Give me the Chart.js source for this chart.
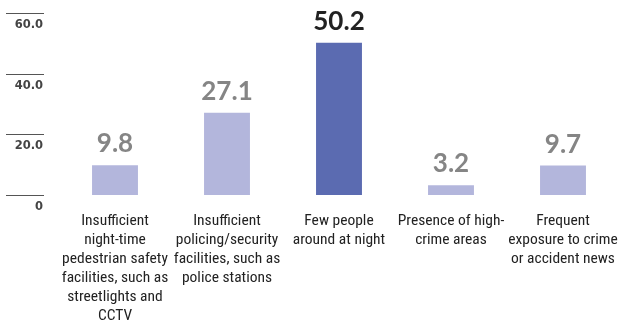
<!DOCTYPE html>
<html>
<head>
<meta charset="utf-8">
<script src="https://cdn.jsdelivr.net/npm/chart.js@4/dist/chart.umd.min.js"></script>
<style>
  html, body { margin: 0; padding: 0; background: #fff; }
  #wrap { width: 620px; height: 328px; position: relative; }
</style>
</head>
<body>
<div id="wrap"><canvas id="c"></canvas></div>
<script>
const categories = [
    ['Insufficient', 'night-time', 'pedestrian safety', 'facilities, such as', 'streetlights and', 'CCTV'],
    ['Insufficient', 'policing/security', 'facilities, such as', 'police stations'],
    ['Few people', 'around at night'],
    ['Presence of high-', 'crime areas'],
    ['Frequent', 'exposure to crime', 'or accident news'],
];
const values      = [9.8, 27.1, 50.2, 3.2, 9.7];
const highlight   = [false, false, true, false, false];
const yTicks      = [0, 20, 40, 60];
const yTickLabels = ['0', '20.0', '40.0', '60.0'];

const LIGHT = '#b3b6dc';
const DARK  = '#5b6bb1';

// short grid lines + labels sitting left of the plot
const yAxisPlugin = {
    id: 'shortAxis',
    afterDraw(chart) {
        const { ctx, scales: { y } } = chart;
        ctx.save();
        ctx.font = 'bold 11.5px "DejaVu Sans", sans-serif';
        ctx.textAlign = 'right';
        ctx.textBaseline = 'middle';
        yTicks.forEach((v, i) => {
            const py = Math.round(y.getPixelForValue(v)) + 0.5;
            ctx.strokeStyle = '#555';
            ctx.lineWidth = 1;
            ctx.beginPath();
            ctx.moveTo(6, py);
            ctx.lineTo(44, py);
            ctx.stroke();
            ctx.fillStyle = '#444';
            ctx.fillText(yTickLabels[i], 43, py + 11.5);
        });
        ctx.restore();
    }
};

const valueLabels = {
    id: 'valueLabels',
    afterDatasetsDraw(chart) {
        const { ctx } = chart;
        const meta = chart.getDatasetMeta(0);
        ctx.save();
        ctx.font = 'bold 26px Lato, sans-serif';
        ctx.textAlign = 'center';
        ctx.textBaseline = 'alphabetic';
        meta.data.forEach((bar, i) => {
            ctx.fillStyle = highlight[i] ? '#222' : '#858585';
            ctx.fillText(values[i].toFixed(1), bar.x, bar.y - 13);
        });
        ctx.restore();
    }
};

new Chart(document.getElementById('c'), {
    type: 'bar',
    data: {
        labels: categories,
        datasets: [{
            data: values,
            backgroundColor: highlight.map(h => h ? DARK : LIGHT),
            borderWidth: 0,
            barPercentage: 0.41,
            categoryPercentage: 1,
        }],
    },
    options: {
        responsive: true,
        maintainAspectRatio: false,
        animation: false,
        layout: { padding: { left: 59, right: 1, top: 13, bottom: -15 } },
        plugins: { legend: { display: false }, tooltip: { enabled: false } },
        scales: {
            x: {
                grid: { display: false, drawTicks: false },
                border: { display: false },
                afterFit(scale) { scale.paddingLeft = 0; scale.paddingRight = 0; },
                ticks: {
                    color: '#222',
                    font: { family: '"Roboto Condensed", Roboto, sans-serif', size: 15.5, lineHeight: '19px' },
                    padding: 17,
                    maxRotation: 0,
                    autoSkip: false,
                },
            },
            y: {
                display: false,
                min: 0,
                max: 60,
            },
        },
    },
    plugins: [yAxisPlugin, valueLabels],
});
</script>
</body>
</html>
